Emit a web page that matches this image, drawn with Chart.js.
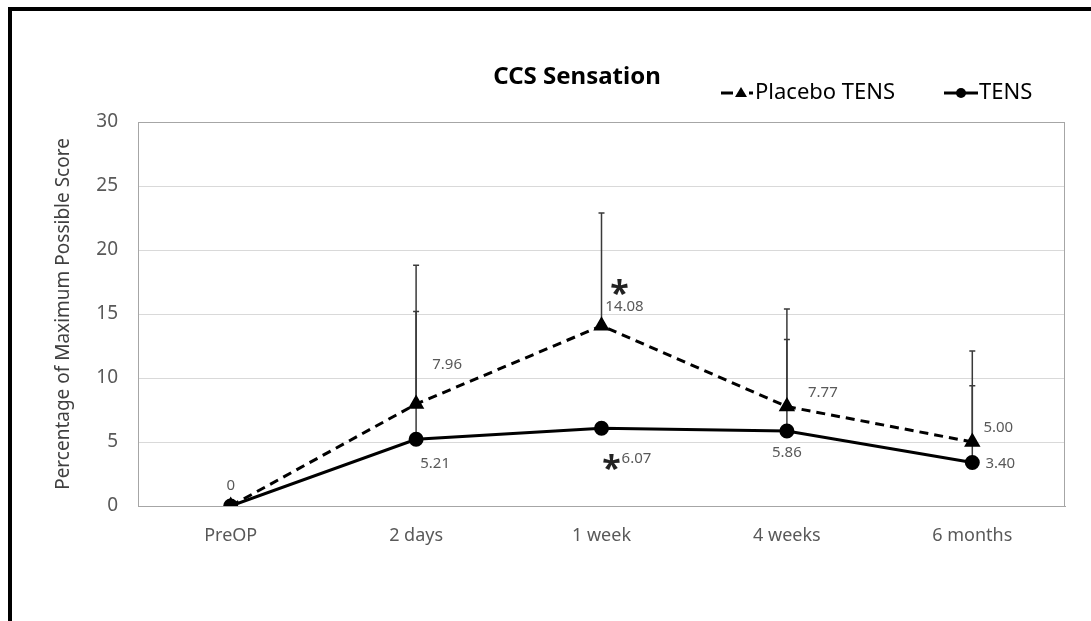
<!DOCTYPE html>
<html>
<head>
<meta charset="utf-8">
<script src="https://cdn.jsdelivr.net/npm/chart.js@4/dist/chart.umd.min.js"></script>
<style>
  html, body { margin: 0; padding: 0; background: #fff; }
  #wrap { position: relative; width: 1091px; height: 621px; overflow: hidden; }
  #frame {
    position: absolute; left: 8px; top: 7px; width: 1200px; height: 700px;
    border-top: 4px solid #000; border-left: 4px solid #000;
    pointer-events: none;
  }
  canvas { position: absolute; left: 0; top: 0; }
</style>
</head>
<body>
<div id="wrap">
  <canvas id="chart" width="1091" height="621"></canvas>
  <div id="frame"></div>
</div>
<script>
const categories = ["PreOP", "2 days", "1 week", "4 weeks", "6 months"];
const placeboValues = [0, 7.96, 14.08, 7.77, 5.00];
const tensValues = [0, 5.21, 6.07, 5.86, 3.40];
// top of each error bar (upper SD only)
const placeboUpper = [null, 18.8, 22.9, 15.4, 12.1];
const tensUpper = [null, 15.2, null, 13.0, 9.4];
const placeboLabels = ["", "7.96", "14.08", "7.77", "5.00"];
const tensLabels = ["0", "5.21", "6.07", "5.86", "3.40"];
const yTicks = [0, 5, 10, 15, 20, 25, 30];
// significant differences marked with an asterisk
const starPlacebo = [false, false, true, false, false];
const starTens = [false, false, true, false, false];

// pixel offsets of the value labels from their point
const placeboLabelOffset = [[0, 0], [31, -39], [23, -19], [36, -14], [26, -14]];
const tensLabelOffset = [[0, -20], [19, 24], [35, 30], [0, 22], [28, 1]];

const FONT = "'Noto Sans', 'Open Sans', sans-serif";
const GREY_TEXT = "#595959";

const errorBars = {
  id: "errorBars",
  beforeDatasetsDraw(chart) {
    const { ctx, scales } = chart;
    ctx.save();
    ctx.strokeStyle = "#3a3a3a";
    ctx.lineWidth = 1.5;
    const draw = (values, uppers) => {
      uppers.forEach((up, i) => {
        if (up == null) return;
        const x = scales.x.getPixelForValue(i);
        const y0 = scales.y.getPixelForValue(values[i]);
        const y1 = scales.y.getPixelForValue(up);
        ctx.beginPath();
        ctx.moveTo(x, y0);
        ctx.lineTo(x, y1);
        ctx.moveTo(x - 3, y1);
        ctx.lineTo(x + 3, y1);
        ctx.stroke();
      });
    };
    draw(placeboValues, placeboUpper);
    draw(tensValues, tensUpper);
    ctx.restore();
  }
};

const boxAndText = {
  id: "boxAndText",
  beforeDatasetsDraw(chart) {
    const { ctx, chartArea } = chart;
    ctx.save();
    ctx.strokeStyle = "#a6a6a6";
    ctx.lineWidth = 1;
    ctx.strokeRect(chartArea.left + 0.5, chartArea.top + 0.5,
      chartArea.right - chartArea.left - 1, chartArea.bottom - chartArea.top);
    ctx.restore();
  },
  afterDraw(chart) {
    const { ctx, scales } = chart;
    ctx.save();

    // value labels
    ctx.font = "15px " + FONT;
    ctx.fillStyle = GREY_TEXT;
    ctx.textAlign = "center";
    ctx.textBaseline = "middle";
    const labelPass = (values, labels, offsets) => {
      labels.forEach((t, i) => {
        if (!t) return;
        const x = scales.x.getPixelForValue(i) + offsets[i][0];
        const y = scales.y.getPixelForValue(values[i]) + offsets[i][1];
        ctx.fillText(t, x, y);
      });
    };
    labelPass(placeboValues, placeboLabels, placeboLabelOffset);
    labelPass(tensValues, tensLabels, tensLabelOffset);

    // asterisks
    ctx.fillStyle = "#222";
    ctx.font = "bold 34px " + FONT;
    starPlacebo.forEach((s, i) => {
      if (!s) return;
      ctx.fillText("*", scales.x.getPixelForValue(i) + 18, scales.y.getPixelForValue(placeboValues[i]) - 30);
    });
    starTens.forEach((s, i) => {
      if (!s) return;
      ctx.fillText("*", scales.x.getPixelForValue(i) + 10, scales.y.getPixelForValue(tensValues[i]) + 42);
    });

    // title
    ctx.fillStyle = "#000";
    ctx.font = "bold 24px " + FONT;
    ctx.fillText("CCS Sensation", 577, 77);

    // legend
    ctx.font = "22px " + FONT;
    ctx.textAlign = "left";
    ctx.strokeStyle = "#000";
    ctx.lineWidth = 3;
    const ly = 93;
    ctx.beginPath();
    ctx.moveTo(721, ly);
    ctx.lineTo(733, ly);
    ctx.moveTo(749, ly);
    ctx.lineTo(753, ly);
    ctx.stroke();
    ctx.beginPath();
    ctx.moveTo(741, ly - 6);
    ctx.lineTo(747, ly + 4);
    ctx.lineTo(735, ly + 4);
    ctx.closePath();
    ctx.fillStyle = "#000";
    ctx.fill();
    ctx.fillText("Placebo TENS", 755, ly);

    ctx.beginPath();
    ctx.moveTo(944, ly);
    ctx.lineTo(978, ly);
    ctx.stroke();
    ctx.beginPath();
    ctx.arc(961, ly, 5, 0, Math.PI * 2);
    ctx.fill();
    ctx.fillText("TENS", 979, ly);

    ctx.restore();
  }
};

new Chart(document.getElementById("chart"), {
  type: "line",
  data: {
    labels: categories,
    datasets: [
      {
        label: "Placebo TENS",
        data: placeboValues,
        borderColor: "#000",
        backgroundColor: "#000",
        borderWidth: 3,
        borderDash: [9, 6],
        pointStyle: "triangle",
        pointRadius: 6.5,
        pointHoverRadius: 6.5,
        tension: 0,
        fill: false
      },
      {
        label: "TENS",
        data: tensValues,
        borderColor: "#000",
        backgroundColor: "#000",
        borderWidth: 3,
        pointStyle: "circle",
        pointRadius: 6,
        pointHoverRadius: 6,
        tension: 0,
        fill: false
      }
    ]
  },
  options: {
    responsive: false,
    animation: false,
    events: [],
    layout: { padding: { left: 48, right: 26, top: 122, bottom: 0 } },
    plugins: {
      legend: { display: false },
      title: { display: false },
      tooltip: { enabled: false }
    },
    scales: {
      x: {
        offset: true,
        grid: { display: false, drawTicks: false },
        border: { color: "#a6a6a6" },
        ticks: { font: { family: FONT, size: 18 }, color: GREY_TEXT, padding: 19 },
        afterFit: (s) => { s.height = 115; }
      },
      y: {
        min: 0,
        max: 30,
        afterBuildTicks: (s) => { s.ticks = yTicks.map((v) => ({ value: v })); },
        grid: { color: "#d9d9d9", drawTicks: false },
        border: { color: "#a6a6a6" },
        ticks: { font: { family: FONT, size: 19 }, color: GREY_TEXT, padding: 20 },
        title: {
          display: true,
          text: "Percentage of Maximum Possible Score",
          font: { family: FONT, size: 19 },
          color: "#404040",
          padding: { top: 4, bottom: 4 }
        },
        afterFit: (s) => { s.width = 90; }
      }
    }
  },
  plugins: [errorBars, boxAndText]
});
</script>
</body>
</html>
